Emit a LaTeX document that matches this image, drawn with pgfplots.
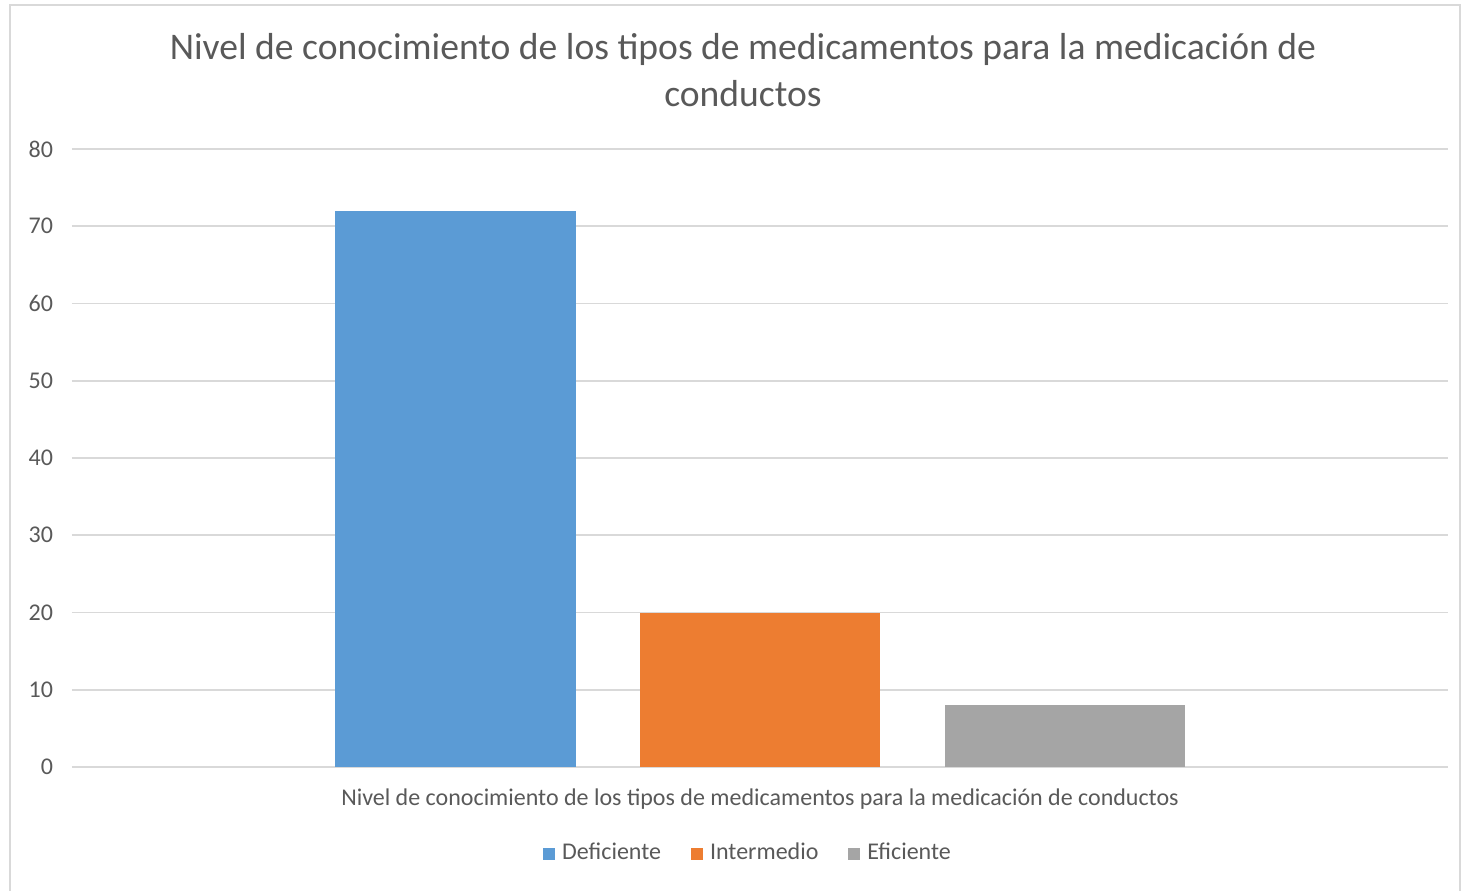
\documentclass[border=0pt]{standalone}
\usepackage{pgfplots}
\pgfplotsset{compat=1.18}
\usepackage{fontspec}
\setmainfont{Carlito}
\definecolor{cblue}{HTML}{5B9BD5}
\definecolor{corange}{HTML}{ED7D31}
\definecolor{cgray}{HTML}{A5A5A5}
\definecolor{gridc}{HTML}{D9D9D9}
\definecolor{txt}{HTML}{595959}
\begin{document}
\begin{tikzpicture}
\useasboundingbox (0pt,0pt) rectangle (731.5pt,445pt);
\draw[gridc, line width=0.8pt] (5pt,-2pt) -- (5pt,442.5pt) -- (730pt,442.5pt) -- (730pt,-2pt);
\begin{axis}[
  at={(36pt,61.5pt)}, anchor=south west,
  scale only axis, width=688pt, height=309pt,
  xmin=-1, xmax=1, ymin=0, ymax=80,
  ytick={0,10,...,80},
  xtick={0}, xticklabels={Nivel de conocimiento de los tipos de medicamentos para la medicación de conductos},
  axis line style={draw=none},
  axis x line*=bottom, axis y line*=left,
  major tick length=0pt,
  ymajorgrids, grid style={gridc, line width=0.8pt},
  every axis plot/.append style={draw=none},
  ybar, bar width=120pt,
  tick label style={font=\fontsize{12}{14}\selectfont, color=txt},
  yticklabel style={xshift=-6pt},
  xticklabel style={yshift=-7.5pt},
  /pgf/number format/assume math mode=true,
  title={Nivel de conocimiento de los tipos de medicamentos para la medicación de\\conductos},
  title style={at={(rel axis cs:0.4876,1.1254)}, anchor=center, yshift=-5.5pt, align=center, font=\fontsize{18.8}{23.5}\selectfont, color=txt},
  legend style={at={(rel axis cs:0.492,0)}, anchor=center, yshift=-43pt, draw=none, fill=none,
    font=\fontsize{12}{14}\selectfont, text=txt, legend columns=-1,
    /tikz/every even column/.append style={column sep=13pt}},
  legend image code/.code={\fill[#1] (0pt,-3.5pt) rectangle (6pt,2.5pt);},
  clip=false,
]
\addplot[fill=cblue, bar shift=-152.25pt] coordinates {(0,72)};
\addplot[fill=corange, bar shift=0pt] coordinates {(0,20)};
\addplot[fill=cgray, bar shift=152.25pt] coordinates {(0,8)};
\legend{\hspace{1.5pt}Deficiente, \hspace{1.5pt}Intermedio, \hspace{1.5pt}Eficiente}
\end{axis}
\end{tikzpicture}
\end{document}
